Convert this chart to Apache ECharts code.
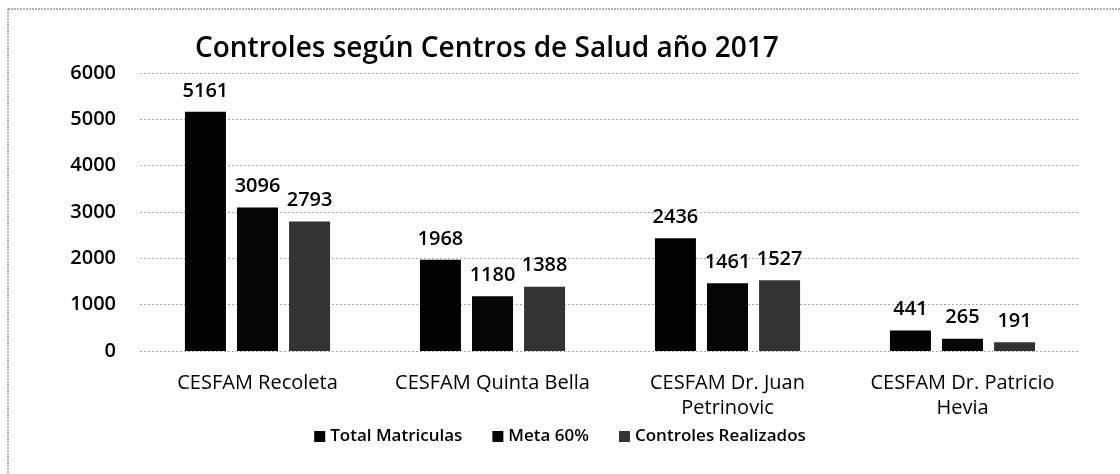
<!DOCTYPE html>
<html><head><meta charset="utf-8">
<script src="https://cdn.jsdelivr.net/npm/echarts@6/dist/echarts.min.js"></script>
<style>html,body{margin:0;padding:0;background:#fff}#c{width:1120px;height:474px}</style>
</head><body><div id="c"></div>
<script>
const categories = ['CESFAM Recoleta', 'CESFAM Quinta Bella', 'CESFAM Dr. Juan\nPetrinovic', 'CESFAM Dr. Patricio\nHevia'];
const seriesNames = ['Total Matriculas', 'Meta 60%', 'Controles Realizados'];
const totalMatriculas = [5161, 1968, 2436, 441];
const meta60 = [3096, 1180, 1461, 265];
const controlesRealizados = [2793, 1388, 1527, 191];
const yTicks = [0, 1000, 2000, 3000, 4000, 5000, 6000];

const font = '"Open Sans", "Liberation Sans", sans-serif';
const chart = echarts.init(document.getElementById('c'));
const lbl = {show: true, position: 'top', distance: 11, color: '#000', fontSize: 20, fontFamily: font, fontWeight: 600};
chart.setOption({
  animation: false,
  textStyle: {fontFamily: font},
  title: {text: 'Controles según Centros de Salud año 2017', left: 190, top: 30,
    textStyle: {fontSize: 28, fontWeight: 600, color: '#000', fontFamily: font}},
  graphic: [
    {type: 'line', shape: {x1: 8, y1: 9, x2: 1120, y2: 9}, style: {stroke: '#999', lineWidth: 1.5, lineDash: [2, 1]}},
    {type: 'line', shape: {x1: 8, y1: 9, x2: 8, y2: 474}, style: {stroke: '#999', lineWidth: 1.5, lineDash: [2, 1]}}
  ],
  legend: {bottom: 24, left: 'center', itemWidth: 11, itemHeight: 11, itemGap: 30,
    icon: 'rect',
    textStyle: {fontSize: 17, fontWeight: 600, color: '#000', fontFamily: font},
    data: seriesNames},
  grid: {left: 140, right: 40, top: 73, bottom: 123},
  xAxis: {type: 'category', data: categories,
    axisLine: {show: false}, axisTick: {show: false},
    axisLabel: {interval: 0, hideOverlap: false, color: '#000', fontSize: 20, margin: 20, lineHeight: 25, fontFamily: font}},
  yAxis: {type: 'value', min: yTicks[0], max: yTicks[yTicks.length - 1], interval: 1000,
    axisLine: {show: false}, axisTick: {show: false},
    axisLabel: {color: '#000', fontSize: 20, fontWeight: 600, margin: 24, fontFamily: font,
      formatter: v => String(v)},
    splitLine: {lineStyle: {color: '#aaa', type: [2, 2], width: 1}}},
  series: [
    {name: seriesNames[0], type: 'bar', data: totalMatriculas, barWidth: 41, barGap: '27%', itemStyle: {color: '#000'}, label: lbl},
    {name: seriesNames[1], type: 'bar', data: meta60, barWidth: 41, barGap: '27%', itemStyle: {color: '#050505'}, label: lbl},
    {name: seriesNames[2], type: 'bar', data: controlesRealizados, barWidth: 41, barGap: '27%',
      itemStyle: {color: '#333'}, label: lbl}
  ]
});
</script></body></html>
